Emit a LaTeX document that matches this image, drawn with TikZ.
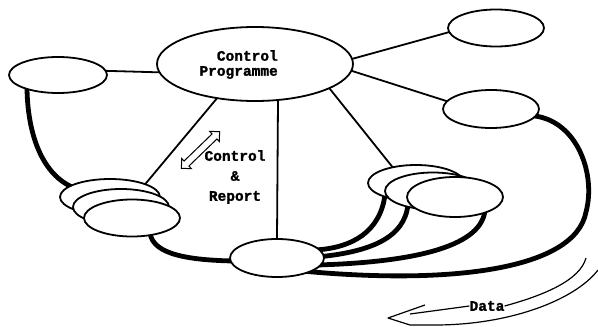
\documentclass[tikz,border=0pt]{standalone}
\usepackage{fontspec}
\newfontfamily\heavymono[BoldFeatures={FakeBold=1.6}]{Liberation Mono}
\usetikzlibrary{shapes.geometric,shapes.arrows,calc}
\pgfdeclarelayer{paper}
\pgfdeclarelayer{back}
\pgfsetlayers{paper,back,main}
\newcommand{\lblfont}{\heavymono\bfseries\fontsize{14.5}{15}\selectfont}
\begin{document}
\begin{tikzpicture}[x=1pt,y=-1pt,
  blob/.style={ellipse,draw,fill=white,line width=1.8pt,inner sep=0pt,outer sep=0pt},
  link/.style={line width=1.8pt},
  datalink/.style={line width=4.8pt,line cap=round},
  flow/.style={line width=1.2pt,line join=round},
  lbl/.style={font=\lblfont,inner sep=0pt}]
\begin{pgfonlayer}{paper}
  \fill[white] (0,0) rectangle (598,327);
\end{pgfonlayer}
\useasboundingbox (0,0) rectangle (598,327);

% main nodes
\node[blob,minimum width=196pt,minimum height=74pt] (ctrl) at (255,64) {};
\node[blob,minimum width=98pt,minimum height=36pt] (left) at (58,75) {};
\node[blob,minimum width=96pt,minimum height=37pt] (topr) at (496,28) {};
\node[blob,minimum width=96pt,minimum height=38pt] (midr) at (491,109) {};
\node[blob,minimum width=94pt,minimum height=38pt] (hub) at (277,258) {};

% left stack (back to front)
\node[blob,minimum width=100pt,minimum height=36pt] (lsa) at (110,197) {};
\node[blob,minimum width=96pt,minimum height=36pt] (lsb) at (121,207) {};
\node[blob,minimum width=96pt,minimum height=37pt] (lsc) at (132,218) {};

% right stack (back to front)
\node[blob,minimum width=96pt,minimum height=36pt] (rsa) at (416,183) {};
\node[blob,minimum width=96pt,minimum height=37pt] (rsb) at (433,191) {};
\node[blob,minimum width=96pt,minimum height=40pt] (rsc) at (455,197) {};

% labels
\node[lbl,align=right,anchor=east] (ctrltxt) at (278,64.5) {Control\\Programme};
\node[lbl,align=center,font=\heavymono\bfseries\fontsize{14.5}{20}\selectfont] (cr) at (235,177) {Control\\\&\\Report};

% control / report double arrow
\node[double arrow,draw,line width=1pt,rotate=44,minimum height=53pt,
      inner sep=3pt,double arrow head extend=3.5pt] (ca) at (200.5,150) {};

\begin{pgfonlayer}{back}
  % control links
  \draw[link] (ctrl.185) -- (left.5);
  \draw[link] (ctrl.3) -- (topr.185);
  \draw[link] (ctrl.-4) -- (midr.170);
  \draw[link] (ctrl.222) -- (lsa.20);
  \draw[link] (ctrl.-18.7) -- (rsa.146);
  \draw[link] (ctrltxt.east |- ctrl.south) -- (hub.north);
  % data links
  \draw[datalink] ($(left)+(-31,14)$) .. controls (28,140) and (45,175) .. ($(lsa)+(-38,-10)$);
  \draw[datalink] ($(lsc)+(18,15)$) .. controls (153,255) and (190,260) .. ($(hub)+(-44,3)$);
  \draw[datalink] ($(midr)+(44,7)$) .. controls (578,122) and (596,175) .. (586,212)
                  .. controls (575,270) and (450,285) .. ($(hub)+(25,13)$);
  \draw[datalink] ($(rsa)+(-31,12)$) .. controls (380,232) and (352,248) .. ($(hub)+(38,-8)$);
  \draw[datalink] ($(rsb)+(-25,13)$) .. controls (405,238) and (370,252) .. ($(hub)+(40,-1)$);
  \draw[datalink] ($(rsc)+(30,13)$) .. controls (482,245) and (420,262) .. ($(hub)+(40,7)$);
\end{pgfonlayer}

% data flow arrow
\node[lbl] (data) at (487,306) {Data};
\draw[flow] (586,258) .. controls (580,280) and (545,295) .. (data.east);
\draw[flow] (data.west) -- (410,314);
\draw[flow] (425,305) -- (388,318) -- (410,325) -- (435,325)
            .. controls (510,325) and (575,300) .. (598,270);
\end{tikzpicture}
\end{document}
